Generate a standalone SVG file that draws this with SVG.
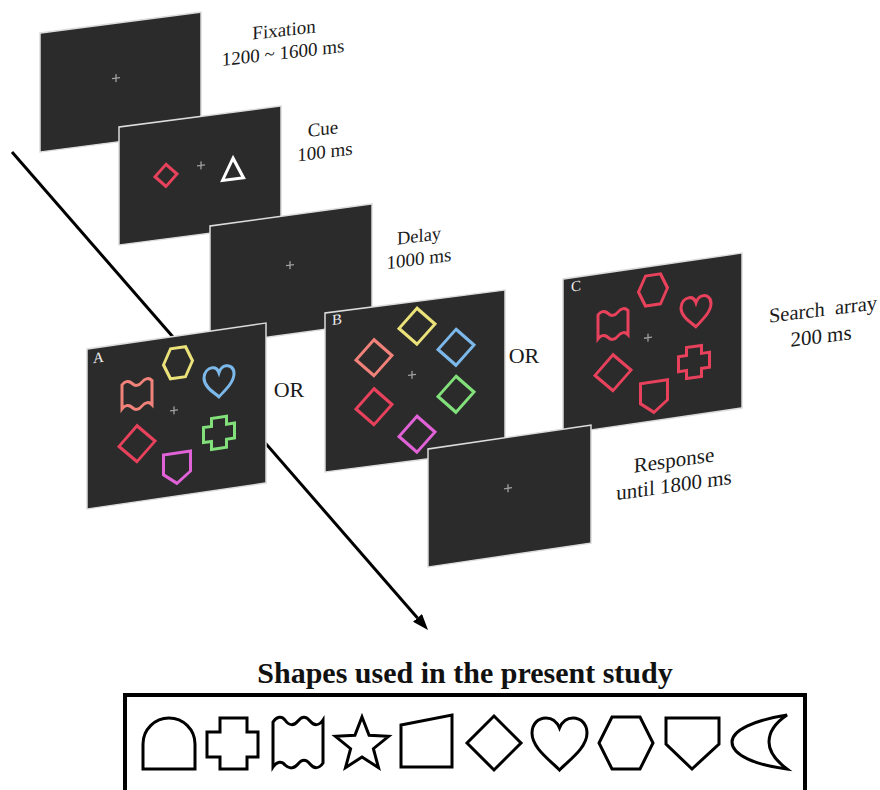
<svg xmlns="http://www.w3.org/2000/svg" xmlns:xlink="http://www.w3.org/1999/xlink" width="880" height="790" viewBox="0 0 880 790">
<style>
.screen{fill:#2b2b2b;stroke:#dcdcdc;stroke-width:1.5}
.fix{stroke:#a0a0a0;stroke-width:1.3;fill:none}
.sh{fill:none;stroke-width:3;stroke-linejoin:miter}
.lbl{font-family:"Liberation Serif","Times New Roman",serif;fill:#1a1a1a;text-anchor:middle}
.pl{font-family:"Liberation Serif","Times New Roman",serif;fill:#eeeeee;font-size:15px}
.or{font-family:"Liberation Serif","Times New Roman",serif;fill:#1a1a1a;font-size:22px;text-anchor:middle}
.bk{fill:none;stroke:#000;stroke-width:3;stroke-linejoin:miter}
.yel{stroke:#ebe27a}.blu{stroke:#7cb9ea}.sal{stroke:#f0827a}.red{stroke:#e8415c}.grn{stroke:#82e07a}.mag{stroke:#e062d6}
</style>
<defs>
<marker id="ah" viewBox="0 0 16 12" refX="0" refY="6" markerWidth="16" markerHeight="12" markerUnits="userSpaceOnUse" orient="auto">
<path d="M0,0 L16,6 L0,12 Z" fill="#000"/>
</marker>
<path id="hex" d="M-14.5,0 L-7.5,-15 L7.5,-15 L14.5,0 L7.5,15 L-7.5,15 Z"/>
<path id="heart" d="M0,15 C-5,10 -15,3 -15,-6 C-15,-12 -11,-15 -7,-15 C-3,-15 -1,-12 0,-9 C1,-12 3,-15 7,-15 C11,-15 15,-12 15,-6 C15,3 5,10 0,15 Z"/>
<path id="flag" d="M-15,-12 C-12,-15.5 -8,-15.5 -5,-12 C-2,-8.5 2,-8.5 5,-12 C8,-15.5 12,-15.5 15,-12 L15,12 C12,8.5 8,8.5 5,12 C2,15.5 -2,15.5 -5,12 C-8,8.5 -12,8.5 -15,12 Z"/>
<path id="dia" d="M0,-18 L18,0 L0,18 L-18,0 Z"/>
<path id="cross" d="M-7.5,-15.5 H7.5 V-7.5 H15.5 V7.5 H7.5 V15.5 H-7.5 V7.5 H-15.5 V-7.5 H-7.5 Z"/>
<path id="pent" d="M-13.5,-15 L13.5,-15 L13.5,5 L0,15.5 L-13.5,5 Z"/>
<path id="plus" d="M-4,0 H4 M0,-4 V4"/>
</defs>
<rect width="880" height="790" fill="#fff"/>

<g id="connectors">
<path d="M12,152 L417.5,617.9" stroke="#000" stroke-width="3" fill="none" marker-end="url(#ah)"/>
</g>

<g id="fixation" transform="translate(40,33) matrix(1,-0.13,0,1,0,0)">
<rect class="screen" width="161" height="119"/>
<use href="#plus" class="fix" x="76" y="55"/>
</g>

<g id="cue" transform="translate(119,127) matrix(1,-0.13,0,1,0,0)">
<rect class="screen" width="162" height="118"/>
<path class="sh red" stroke-width="2.6" d="M47,43.5 L58,54.5 L47,65.5 L36,54.5 Z"/>
<use href="#plus" class="fix" x="82" y="49"/>
<path class="sh" stroke="#ffffff" stroke-width="2.6" d="M114,46 L124.5,67 L103.5,67 Z"/>
</g>

<g id="delay" transform="translate(210,226) matrix(1,-0.136,0,1,0,0)">
<rect class="screen" width="162" height="119"/>
<use href="#plus" class="fix" x="80" y="50"/>
</g>

<g id="search-a" transform="translate(87,349) matrix(1,-0.1453,0,1,0,0)">
<rect class="screen" width="179" height="160"/>
<text class="pl" x="6" y="15">A</text>
<use href="#hex" class="sh yel" x="91" y="27"/>
<use href="#heart" class="sh blu" x="132" y="52"/>
<use href="#flag" class="sh sal" x="50" y="53"/>
<use href="#plus" class="fix" x="87" y="74"/>
<use href="#dia" class="sh red" x="50" y="102"/>
<use href="#cross" class="sh grn" x="132" y="103"/>
<use href="#pent" class="sh mag" x="90" y="132"/>
</g>

<g id="search-b" transform="translate(325,313) matrix(1,-0.1278,0,1,0,0)">
<rect class="screen" width="180" height="159"/>
<text class="pl" x="7" y="13">B</text>
<use href="#dia" class="sh yel" x="92" y="25"/>
<use href="#dia" class="sh blu" x="131" y="51"/>
<use href="#dia" class="sh sal" x="49" y="51"/>
<use href="#plus" class="fix" x="87" y="73"/>
<use href="#dia" class="sh grn" x="131" y="98"/>
<use href="#dia" class="sh red" x="49" y="100"/>
<use href="#dia" class="sh mag" x="92" y="133"/>
</g>

<g id="search-c" transform="translate(563,279) matrix(1,-0.1453,0,1,0,0)">
<rect class="screen" width="179" height="155"/>
<text class="pl" x="8" y="14">C</text>
<use href="#hex" class="sh red" x="90" y="24"/>
<use href="#heart" class="sh red" x="133" y="52"/>
<use href="#flag" class="sh red" x="50" y="53"/>
<use href="#plus" class="fix" x="85" y="71"/>
<use href="#dia" class="sh red" x="50" y="101"/>
<use href="#cross" class="sh red" x="131" y="102"/>
<use href="#pent" class="sh red" x="91" y="131"/>
</g>

<g id="response" transform="translate(428,449) matrix(1,-0.147,0,1,0,0)">
<rect class="screen" width="163" height="118"/>
<use href="#plus" class="fix" x="80" y="51"/>
</g>

<g id="labels">
<text class="lbl" font-size="19" transform="translate(284,36) skewY(-6.5)">Fixation</text>
<text class="lbl" font-size="19" transform="translate(283,59) skewY(-6.5)">1200 ~ 1600 ms</text>
<text class="lbl" font-size="19" transform="translate(323,135) skewY(-7)">Cue</text>
<text class="lbl" font-size="19" transform="translate(325,158) skewY(-7)">100 ms</text>
<text class="lbl" font-size="18.5" transform="translate(419,242) skewY(-7.3)">Delay</text>
<text class="lbl" font-size="19" transform="translate(419,265) skewY(-7.3)">1000 ms</text>
<text class="lbl" font-size="20.5" transform="translate(823,316) skewY(-7)" xml:space="preserve">Search  array</text>
<text class="lbl" font-size="21" transform="translate(821,343) skewY(-7)">200 ms</text>
<text class="lbl" font-size="21" transform="translate(674,467) skewY(-8)">Response</text>
<text class="lbl" font-size="21" transform="translate(674,492) skewY(-8)">until 1800 ms</text>
<text class="or" x="289" y="397">OR</text>
<text class="or" x="524" y="363">OR</text>
</g>

<g id="shapes-legend">
<text x="465" y="683" font-family="'Liberation Serif','Times New Roman',serif" font-weight="bold" font-size="30" text-anchor="middle" fill="#111">Shapes used in the present study</text>
<rect x="125" y="695" width="680" height="100" fill="none" stroke="#000" stroke-width="4"/>
<path class="bk" d="M143,769 V744 A26,26 0 0 1 195,744 V769 Z"/>
<path class="bk" d="M220,718 H247 V732 H258 V757 H247 V769 H220 V757 H207 V732 H220 Z"/>
<path class="bk" d="M273,722 C277,716 282,716 285,720 C289,726 294,726 298,721 C302,716 306,716 310,721 C314,726 319,726 323,720 L323,763 C319,769 314,769 310,764 C306,759 302,759 298,764 C294,769 289,769 285,765 C282,761 277,761 273,767 Z"/>
<path class="bk" d="M362,717 L369.1,735.3 L388.6,736.3 L373.4,748.7 L378.5,767.7 L362,757 L345.5,767.7 L350.6,748.7 L335.4,736.3 L354.9,735.3 Z"/>
<path class="bk" d="M401,725 L452,715 L452,767 L401,767 Z"/>
<path class="bk" d="M494,716 L521,743 L494,770 L467,743 Z"/>
<path class="bk" d="M559.5,770 C550,760 532,748 532,733 C532,724 538,718 546,718 C552,718 557,722 559.5,728 C562,722 567,718 573,718 C581,718 587,724 587,733 C587,748 569,760 559.5,770 Z"/>
<path class="bk" d="M612,717 L640,717 L653,743 L640,769 L612,769 L599,743 Z"/>
<path class="bk" d="M666,718 L719,718 L719,744 L692,769 L666,744 Z"/>
<path class="bk" d="M787,715 C755,720 732,730 732,742 C732,755 755,765 787,769 C775,760 769,752 769,742 C769,732 775,723 787,715 Z"/>
</g>
</svg>
